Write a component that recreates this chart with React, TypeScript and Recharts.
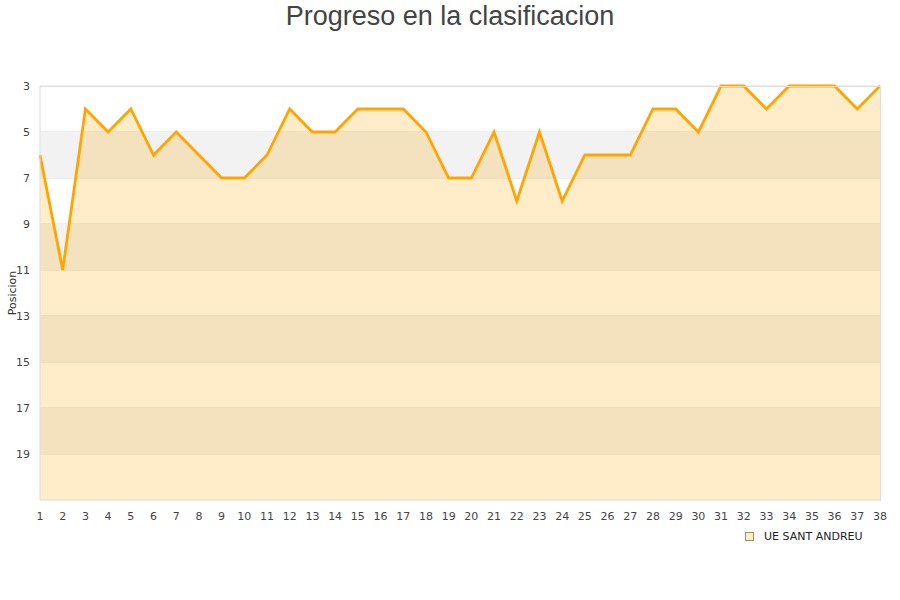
import { ComposedChart, Area, XAxis, YAxis, CartesianGrid, ReferenceArea } from 'recharts'

const jornadas = [1, 2, 3, 4, 5, 6, 7, 8, 9, 10, 11, 12, 13, 14, 15, 16, 17, 18, 19, 20, 21, 22, 23, 24, 25, 26, 27, 28, 29, 30, 31, 32, 33, 34, 35, 36, 37, 38]
const posiciones = [6, 11, 4, 5, 4, 6, 5, 6, 7, 7, 6, 4, 5, 5, 4, 4, 4, 5, 7, 7, 5, 8, 5, 8, 6, 6, 6, 4, 4, 5, 3, 3, 4, 3, 3, 3, 4, 3]
const yTicks = [3, 5, 7, 9, 11, 13, 15, 17, 19]
const greyBands = [[5, 7], [9, 11], [13, 15], [17, 19]]
const equipo = 'UE SANT ANDREU'

const data = jornadas.map((j, i) => ({ jornada: j, pos: posiciones[i] }))

const tickStyle = { fontSize: 11, fill: '#444', fontFamily: 'DejaVu Sans' }

export default function App() {
  return (
    <div style={{ position: 'absolute', left: 0, top: 0, width: 900, height: 600, background: '#fff' }}>
      <div
        style={{
          position: 'absolute', top: 0, left: 0, width: 900, textAlign: 'center',
          fontFamily: 'Liberation Sans', fontSize: 27, color: '#444', lineHeight: '32px',
        }}
      >
        Progreso en la clasificacion
      </div>
      <ComposedChart width={900} height={600} data={data} margin={{ top: 86, right: 20, left: 0, bottom: 70 }}>
        {greyBands.map(([a, b]) => (
          <ReferenceArea key={a} y1={a} y2={b} fill="#f2f2f2" fillOpacity={1} stroke="none" ifOverflow="hidden" />
        ))}
        <CartesianGrid stroke="#dddddd" vertical={false} horizontalValues={yTicks} />
        <XAxis
          dataKey="jornada" type="number" domain={[1, 38]} ticks={jornadas} interval={0} height={30}
          tick={tickStyle} tickLine={false} axisLine={{ stroke: '#dddddd' }} tickMargin={6}
        />
        <YAxis
          type="number" domain={[3, 21]} reversed ticks={yTicks} interval={0} width={40}
          tick={tickStyle} tickLine={false} axisLine={{ stroke: '#dddddd' }} tickMargin={4}
          label={{ value: 'Posicion', angle: -90, position: 'insideLeft', offset: 12, style: { fontSize: 11, fill: '#333', fontFamily: 'DejaVu Sans', textAnchor: 'middle' } }}
        />
        <Area
          type="linear" dataKey="pos" baseValue={21} stroke="#ffa500" strokeWidth={2.8}
          fill="#ffa500" fillOpacity={0.21} dot={false} isAnimationActive={false} name={equipo}
        />
      </ComposedChart>
      <div style={{ position: 'absolute', left: 40, top: 86, width: 841, height: 415, boxSizing: 'border-box', borderTop: '1px solid #dddddd', borderRight: '1px solid #dddddd', pointerEvents: 'none' }} />
      <div style={{ position: 'absolute', left: 745, top: 530, display: 'flex', alignItems: 'center', fontFamily: 'DejaVu Sans', fontSize: 11, color: '#222' }}>
        <span style={{ width: 7, height: 7, border: '1px solid #a08a60', background: '#ffecc8', marginRight: 10 }} />
        {equipo}
      </div>
    </div>
  )
}
